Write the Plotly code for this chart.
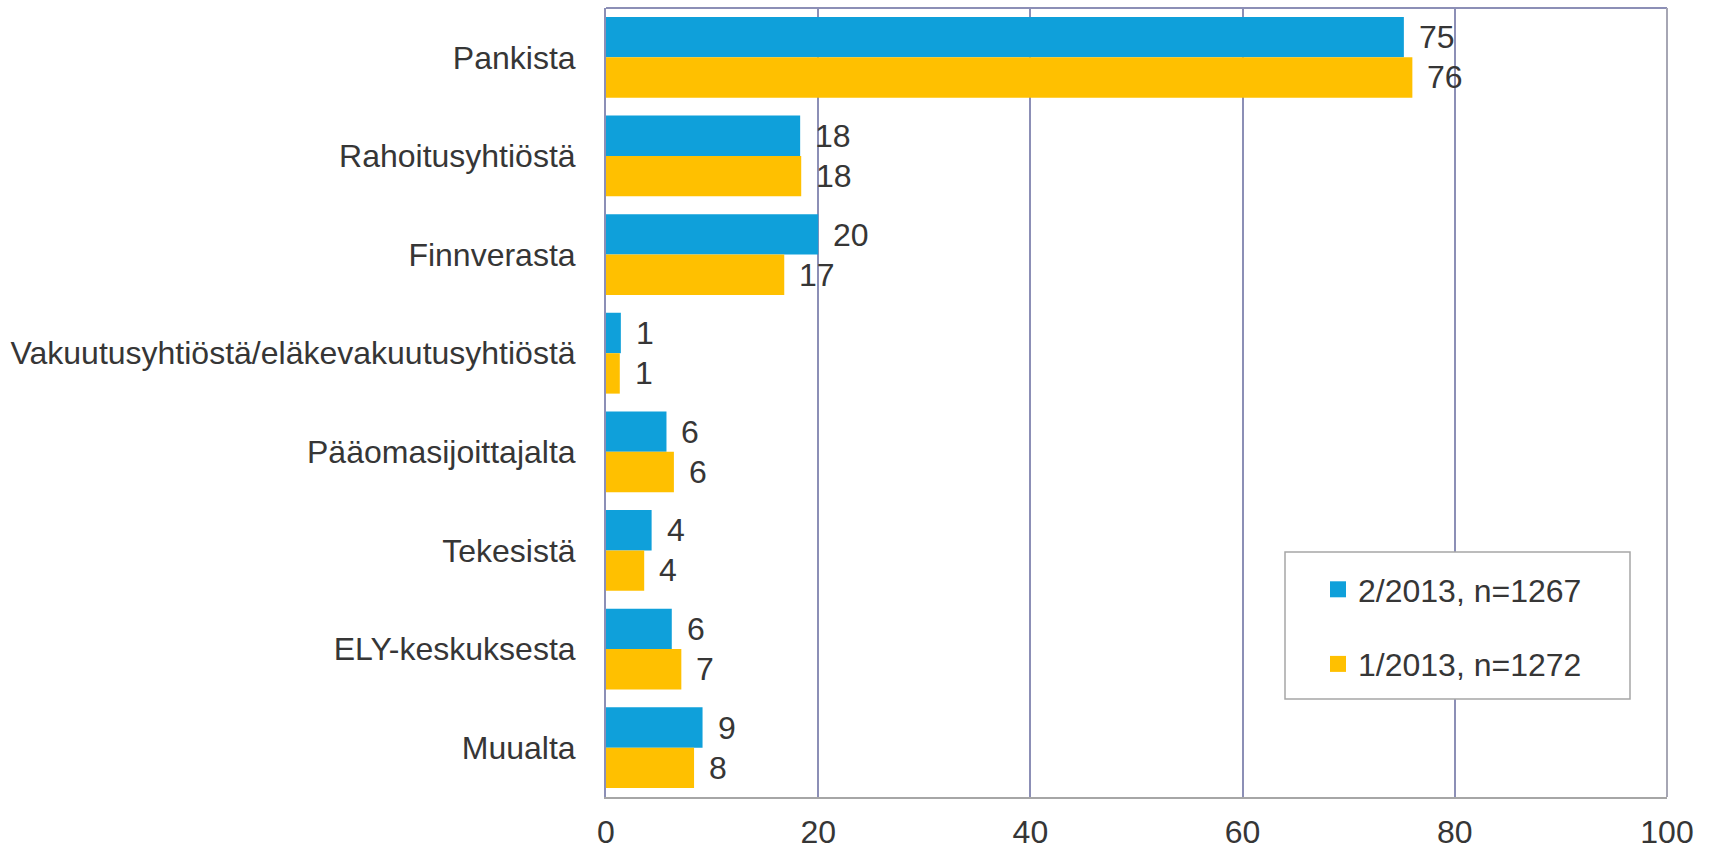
import plotly.graph_objects as go

categories = ["Pankista", "Rahoitusyhtiöstä", "Finnverasta",
              "Vakuutusyhtiöstä/eläkevakuutusyhtiöstä", "Pääomasijoittajalta",
              "Tekesistä", "ELY-keskuksesta", "Muualta"]
series_2_2013 = [75.2, 18.3, 20.0, 1.4, 5.7, 4.3, 6.2, 9.1]
series_1_2013 = [76.0, 18.4, 16.8, 1.3, 6.4, 3.6, 7.1, 8.3]
series_names = ["2/2013, n=1267", "1/2013, n=1272"]
x_ticks = [0, 20, 40, 60, 80, 100]

BLUE = "#0FA0DA"
YELLOW = "#FFC000"
GRID = "#8C8FB6"
TXT = "#363636"
FONT = "Liberation Sans, Arial, sans-serif"
FS = 32

fig = go.Figure()
for i, (vals, name, col) in enumerate([(series_2_2013, series_names[0], BLUE),
                                      (series_1_2013, series_names[1], YELLOW)]):
    fig.add_trace(go.Bar(y=categories, x=vals, orientation="h", name=name,
                         marker=dict(color=col, line=dict(width=0)),
                         legendgroup=f"g{i}", showlegend=False, hoverinfo="x+y"))
    for c, v in zip(categories, vals):
        fig.add_annotation(x=v, y=c, xref="x", yref="y", text=f"{round(v)}",
                           showarrow=False, xanchor="left", yanchor="middle",
                           xshift=13, yshift=20 if i == 0 else -20,
                           font=dict(family=FONT, size=FS, color=TXT))

# legend entries with larger square swatches
for i, (name, col) in enumerate([(series_names[0], BLUE), (series_names[1], YELLOW)]):
    fig.add_trace(go.Scatter(x=[None], y=[None], mode="markers", name=name,
                             legendgroup=f"g{i}", showlegend=True,
                             marker=dict(symbol="square", size=16, color=col,
                                         line=dict(width=0))))

# plot frame: top and right border
fig.add_shape(type="line", xref="paper", yref="paper", x0=0, x1=1, y0=1, y1=1,
              line=dict(color=GRID, width=2))
fig.add_shape(type="line", xref="paper", yref="paper", x0=1, x1=1, y0=0, y1=1,
              line=dict(color="#A6A6B4", width=2))
# legend box
fig.add_shape(type="rect", xref="paper", yref="paper",
              x0=(1285 - 606) / 1061, x1=(1630 - 606) / 1061,
              y0=(797 - 699) / 789, y1=(797 - 552) / 789,
              line=dict(color="#A6A6A6", width=1.5), fillcolor="white", layer="above")

fig.update_layout(
    width=1713, height=850,
    margin=dict(l=606, r=46, t=8, b=53, autoexpand=False),
    paper_bgcolor="white", plot_bgcolor="white",
    barmode="group", bargap=0.18, bargroupgap=0,
    font=dict(family=FONT, size=FS, color=TXT),
    showlegend=True,
    legend=dict(x=(1318 - 606) / 1061, xanchor="left",
                y=(797 - 562) / 789, yanchor="top",
                bgcolor="rgba(0,0,0,0)", borderwidth=0,
                traceorder="grouped", tracegroupgap=30,
                font=dict(family=FONT, size=FS, color=TXT)),
    xaxis=dict(range=[0, 100], tickvals=x_ticks, showgrid=True,
               gridcolor=GRID, gridwidth=1.5, zeroline=False,
               showline=True, linecolor="#A6A6A6", linewidth=2,
               ticks="", ticklabelstandoff=6, automargin=False,
               tickfont=dict(family=FONT, size=FS, color=TXT)),
    yaxis=dict(autorange="reversed", showgrid=False, zeroline=False,
               showline=True, linecolor=GRID, linewidth=2,
               ticks="", ticklabelstandoff=22, automargin=False,
               tickfont=dict(family=FONT, size=FS, color=TXT)),
)

fig.write_html("out.html", config={"displayModeBar": False},
               post_script="document.body.style.margin='0';")
